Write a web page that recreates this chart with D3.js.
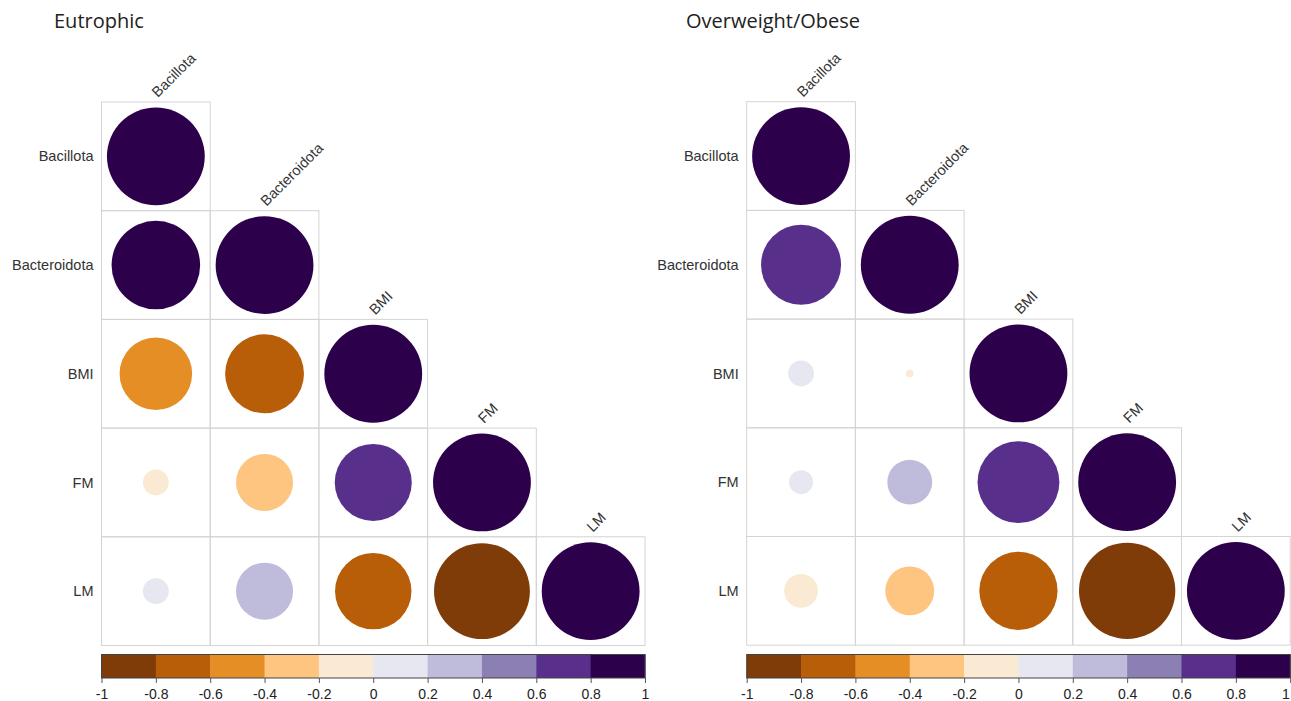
<!DOCTYPE html>
<html>
<head>
<meta charset="utf-8">
<script src="https://cdn.jsdelivr.net/npm/d3@7"></script>
<style>
  body { margin: 0; background: #fff; }
  svg { display: block; }
</style>
</head>
<body>
<svg id="chart" width="1291" height="701"></svg>
<script>
// variables shown on both axes
const variables = ["Bacillota", "Bacteroidota", "BMI", "FM", "LM"];

// lower-triangle correlation values, row by row
const eutrophicCorr = [
  [1],
  [0.82, 1],
  [-0.55, -0.65, 1],
  [-0.07, -0.34, 0.62, 1],
  [0.07, 0.34, -0.61, -0.96, 1]
];
const obeseCorr = [
  [1],
  [0.67, 1],
  [0.07, -0.006, 1],
  [0.06, 0.21, 0.70, 1],
  [-0.12, -0.25, -0.64, -0.97, 1]
];

const panelTitles = ["Eutrophic", "Overweight/Obese"];
const legendTicks = [-1, -0.8, -0.6, -0.4, -0.2, 0, 0.2, 0.4, 0.6, 0.8, 1];

// PuOr brewer colours, ramped to 10 bins like corrplot does
const puor = ["#7F3B08", "#B35806", "#E08214", "#FDB863", "#FEE0B6", "#F7F7F7",
              "#D8DAEB", "#B2ABD2", "#8073AC", "#542788", "#2D004B"];
const ramp = d3.piecewise(d3.interpolateRgb, puor);
const binColors = d3.range(10).map(k => ramp(k / 9));

const color = d3.scaleQuantize().domain([-1, 1]).range(binColors);

const svg = d3.select("#chart");
const cell = 108.7;
const labelFont = "'Liberation Sans', Arial, sans-serif";

function drawPanel(title, matrix, x0, y0, titleX, lastRight) {
  const g = svg.append("g");
  const n = variables.length;

  const x = d3.scaleBand().domain(variables).range([x0, x0 + n * cell]);
  const y = d3.scaleBand().domain(variables).range([y0, y0 + n * cell]);
  const radius = d3.scaleSqrt().domain([0, 1]).range([0, cell * 0.45]);

  // flatten lower triangle
  const cells = [];
  matrix.forEach((row, i) => {
    row.forEach((v, j) => {
      cells.push({ row: variables[i], col: variables[j], value: v });
    });
  });

  // title
  g.append("text")
    .attr("x", titleX)
    .attr("y", 28)
    .attr("font-family", "'Open Sans', sans-serif")
    .attr("font-size", 20)
    .attr("fill", "#222")
    .text(title);

  // cell borders
  g.selectAll("rect.cell")
    .data(cells)
    .join("rect")
    .attr("class", "cell")
    .attr("x", d => x(d.col))
    .attr("y", d => y(d.row))
    .attr("width", x.bandwidth())
    .attr("height", y.bandwidth())
    .attr("fill", "none")
    .attr("stroke", "#d4d4d4")
    .attr("stroke-width", 1);

  // circles
  g.selectAll("circle.corr")
    .data(cells)
    .join("circle")
    .attr("class", "corr")
    .attr("cx", d => x(d.col) + x.bandwidth() / 2)
    .attr("cy", d => y(d.row) + y.bandwidth() / 2)
    .attr("r", d => radius(Math.abs(d.value)))
    .attr("fill", d => color(d.value));

  // row labels
  g.selectAll("text.row-label")
    .data(variables)
    .join("text")
    .attr("class", "row-label")
    .attr("x", x0 - 8)
    .attr("y", d => y(d) + y.bandwidth() / 2)
    .attr("dy", "0.35em")
    .attr("text-anchor", "end")
    .attr("font-family", labelFont)
    .attr("font-size", 14.5)
    .attr("fill", "#333")
    .text(d => d);

  // column labels, rotated above the diagonal
  g.selectAll("text.col-label")
    .data(variables)
    .join("text")
    .attr("class", "col-label")
    .attr("transform", d =>
      `translate(${x(d) + x.bandwidth() / 2 + 2},${y(d) - 4}) rotate(-45)`)
    .attr("font-family", labelFont)
    .attr("font-size", 14.5)
    .attr("fill", "#333")
    .text(d => d);

  // colour legend
  const barTop = 654.5, barH = 23.5;
  const lx = d3.scaleLinear().domain([-1, 1]).range([x0, x0 + n * cell]);
  const bins = binColors.map((c, k) => ({ c, lo: -1 + k * 0.2, hi: -1 + (k + 1) * 0.2 }));

  g.selectAll("rect.bin")
    .data(bins)
    .join("rect")
    .attr("class", "bin")
    .attr("x", d => lx(d.lo))
    .attr("y", barTop)
    .attr("width", d => lx(d.hi) - lx(d.lo) + 0.5)
    .attr("height", barH)
    .attr("fill", d => d.c);

  g.append("rect")
    .attr("x", lx(-1))
    .attr("y", barTop)
    .attr("width", lx(1) - lx(-1))
    .attr("height", barH)
    .attr("fill", "none")
    .attr("stroke", "#444")
    .attr("stroke-width", 1);

  const axis = d3.axisBottom(lx)
    .tickValues(legendTicks)
    .tickSize(5)
    .tickPadding(6)
    .tickFormat(d => String(+d.toFixed(1)));

  g.append("g")
    .attr("transform", `translate(0,${barTop + barH})`)
    .call(axis)
    .call(a => a.select(".domain").remove())
    .call(a => a.selectAll("line").attr("stroke", "#555"))
    .call(a => a.selectAll("text")
      .attr("font-family", labelFont)
      .attr("font-size", 14)
      .attr("fill", "#222"))
    .call(a => {
      // keep the last label inside the page on the right panel
      if (lastRight) a.selectAll("text").filter(d => d === 1).attr("text-anchor", "end").attr("dx", -1);
    });
}

drawPanel(panelTitles[0], eutrophicCorr, 101.5, 102, 54, false);
drawPanel(panelTitles[1], obeseCorr, 746.7, 101.7, 686, true);
</script>
</body>
</html>
